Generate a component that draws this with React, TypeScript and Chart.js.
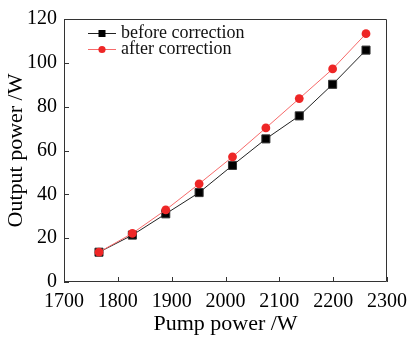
import React, { useEffect, useRef } from "react";
import { Chart, registerables } from "chart.js";

Chart.register(...registerables);

const pumpPower = [1765, 1827, 1889, 1951, 2013, 2075, 2137, 2199, 2261];
const beforeCorrection = [13.6, 21.4, 31.1, 40.8, 53.2, 65.3, 75.8, 90.2, 105.8];
const afterCorrection = [13.6, 22.2, 32.9, 44.8, 57.1, 70.3, 83.7, 97.2, 113.3];
const seriesLabels = ["before correction", "after correction"];
const xTitle = "Pump power /W";
const yTitle = "Output power /W";

const FONT = "'Liberation Serif', 'Times New Roman', serif";

const framePlugin = {
  id: "frame",
  beforeDraw(chart: any) {
    const ctx = chart.ctx;
    ctx.save();
    ctx.fillStyle = "#ffffff";
    ctx.fillRect(0, 0, chart.width, chart.height);
    ctx.restore();
  },
  afterDraw(chart: any) {
    const ctx = chart.ctx;
    const { left, right, top, bottom } = chart.chartArea;
    const xs = chart.scales.x;
    const ys = chart.scales.y;
    ctx.save();
    ctx.strokeStyle = "#333333";
    ctx.lineWidth = 1;
    ctx.beginPath();
    ctx.rect(left + 0.5, top + 0.5, right - left - 1, bottom - top - 1);
    ctx.stroke();
    ctx.beginPath();
    xs.ticks.forEach((t: any) => {
      const px = Math.round(xs.getPixelForValue(t.value)) + 0.5;
      ctx.moveTo(px, bottom);
      ctx.lineTo(px, bottom - 5);
    });
    ys.ticks.forEach((t: any) => {
      const py = Math.round(ys.getPixelForValue(t.value)) + 0.5;
      ctx.moveTo(left, py);
      ctx.lineTo(left + 5, py);
    });
    ctx.stroke();

    // legend inside the plot area
    const rows = [33, 49];
    chart.data.datasets.forEach((ds: any, i: number) => {
      const y = rows[i];
      const x0 = left + 24;
      const x1 = left + 52;
      const xm = (x0 + x1) / 2;
      ctx.strokeStyle = ds.borderColor;
      ctx.lineWidth = 1;
      ctx.beginPath();
      ctx.moveTo(x0, y + 0.5);
      ctx.lineTo(x1, y + 0.5);
      ctx.stroke();
      ctx.fillStyle = ds.pointBackgroundColor;
      if (ds.pointStyle === "rect") {
        ctx.fillRect(xm - 3.5, y - 3, 7, 7);
      } else {
        ctx.beginPath();
        ctx.arc(xm, y + 0.5, 3.6, 0, Math.PI * 2);
        ctx.fill();
      }
      ctx.fillStyle = "#111111";
      ctx.font = `18px ${FONT}`;
      ctx.textBaseline = "middle";
      ctx.textAlign = "left";
      ctx.fillText(ds.label, left + 57, y);
    });
    ctx.restore();
  },
};

export default function App() {
  const ref = useRef<HTMLCanvasElement | null>(null);

  useEffect(() => {
    document.body.style.margin = "0";
    if (!ref.current) return;
    const chart = new Chart(ref.current, {
      type: "line",
      data: {
        datasets: [
          {
            label: seriesLabels[0],
            data: pumpPower.map((x, i) => ({ x, y: beforeCorrection[i] })),
            borderColor: "#222222",
            borderWidth: 1,
            pointStyle: "rect",
            pointRadius: 5.7,
            pointBackgroundColor: "#000000",
            pointBorderColor: "#333333",
            pointBorderWidth: 1,
            order: 1,
          },
          {
            label: seriesLabels[1],
            data: pumpPower.map((x, i) => ({ x, y: afterCorrection[i] })),
            borderColor: "#f76a6a",
            borderWidth: 1,
            pointStyle: "circle",
            pointRadius: 4.4,
            pointBackgroundColor: "#ee2626",
            pointBorderColor: "#ee2626",
            pointBorderWidth: 0,
            order: 0,
          },
        ],
      },
      options: {
        responsive: false,
        animation: false,
        layout: { padding: { top: 15, right: 23, left: 0, bottom: 0 } },
        plugins: {
          legend: { display: false },
          tooltip: { enabled: false },
        },
        scales: {
          x: {
            type: "linear",
            min: 1700,
            max: 2300,
            ticks: {
              stepSize: 100,
              color: "#000000",
              font: { family: FONT, size: 20 },
              padding: 8,
              maxRotation: 0,
              autoSkip: false,
              callback: (v: any) => String(v),
            },
            grid: { display: false, drawTicks: false },
            border: { display: false },
            title: {
              display: true,
              text: xTitle,
              color: "#000000",
              font: { family: FONT, size: 22 },
              padding: { top: 0, bottom: 0 },
            },
            afterFit(scale: any) {
              scale.height = 55;
            },
          },
          y: {
            type: "linear",
            min: 0,
            max: 120,
            ticks: {
              stepSize: 20,
              color: "#000000",
              font: { family: FONT, size: 20 },
              padding: 7,
              callback: (v: any) => String(v),
            },
            grid: { display: false, drawTicks: false },
            border: { display: false },
            title: {
              display: true,
              text: yTitle,
              color: "#000000",
              font: { family: FONT, size: 22 },
              padding: { top: 3, bottom: 0 },
            },
            afterFit(scale: any) {
              scale.width = 64;
            },
          },
        },
      },
      plugins: [framePlugin],
    });
    return () => chart.destroy();
  }, []);

  return (
    <div style={{ width: 415, height: 337 }}>
      <canvas ref={ref} width={415} height={337} />
    </div>
  );
}
